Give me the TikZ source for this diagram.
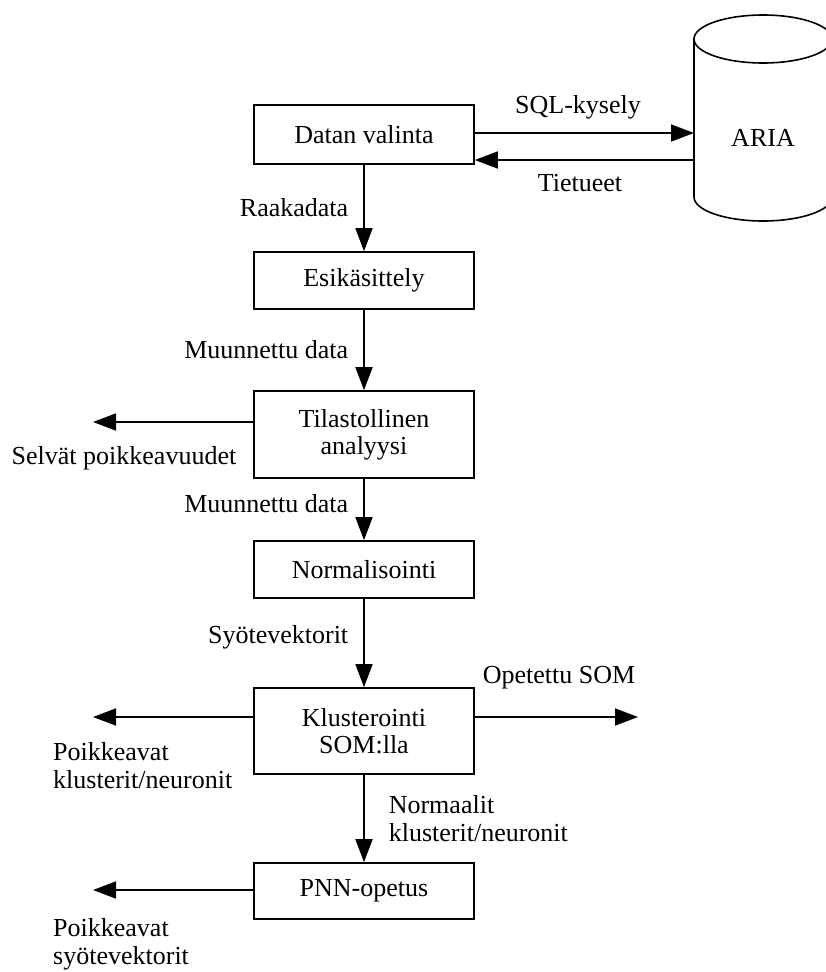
\documentclass[tikz,border=0pt]{standalone}
\usepackage{fontspec}
\setmainfont{Liberation Serif}
\usetikzlibrary{arrows.meta}
\begin{document}
\begin{tikzpicture}[x=1pt, y=1pt,
    font=\fontsize{26}{29}\selectfont,
    box/.style={draw, line width=1.6pt, minimum width=220pt, align=center, inner sep=0pt},
    lbl/.style={inner sep=2pt, align=left},
    arr/.style={line width=1.6pt, -{Triangle[length=23pt, width=17pt]}}]
    \useasboundingbox (0,0) rectangle (826,-972);
    % process chain
    \node[box, minimum height=59pt] (valinta) at (364,-134.5) {Datan valinta};
    \node[box, minimum height=57pt] (esik) at (364,-280.5) {Esikäsittely};
    \node[box, minimum height=87pt] (tilasto) at (364,-434.5) {Tilastollinen\\[-2pt]analyysi};
    \node[box, minimum height=57pt] (normal) at (364,-569.5) {Normalisointi};
    \node[box, minimum height=86pt] (kluster) at (364,-731) {Klusterointi\\[-2pt]SOM:lla};
    \node[box, minimum height=56pt] (pnn) at (364,-891) {PNN-opetus};
    % database
    \draw[line width=1.6pt] (763,-39) ellipse [x radius=69, y radius=24];
    \draw[line width=1.6pt] (694,-39) -- (694,-197)
        arc[start angle=180, end angle=360, x radius=69, y radius=24] -- (832,-39);
    \node (aria) at (763,-138) {ARIA};
    \coordinate (sqlend) at (694,-133);
    \coordinate (tietend) at (694,-160);
    % free ends
    \coordinate (selv) at (93,-422);
    \coordinate (poikk1) at (93,-717);
    \coordinate (opetettu) at (638,-717);
    \coordinate (poikk2) at (93,-890);
    \draw[arr] (valinta.east |- sqlend) -- (sqlend);
    \draw[arr] (tietend) -- (valinta.east |- tietend);
    \draw[arr] (valinta) -- node[lbl, left=13pt, pos=0.49] {Raakadata} (esik);
    \draw[arr] (esik) -- node[lbl, left=13pt, pos=0.5] {Muunnettu data} (tilasto);
    \draw[arr] (tilasto) -- node[lbl, left=13pt, pos=0.4] {Muunnettu data} (normal);
    \draw[arr] (normal) -- node[lbl, left=13pt, pos=0.44] {Syötevektorit} (kluster);
    \draw[arr] (kluster) -- node[lbl, right=22pt, pos=0.5] {Normaalit\\[-1pt]klusterit/neuronit} (pnn);
    \draw[arr] (tilasto.west |- selv) -- (selv);
    \draw[arr] (kluster.west |- poikk1) -- (poikk1);
    \draw[arr] (kluster.east |- opetettu) -- (opetettu);
    \draw[arr] (pnn.west |- poikk2) -- (poikk2);
    \node[lbl] (sqllbl) at (578,-107) {SQL-kysely};
    \node[lbl] (tietlbl) at (580,-183) {Tietueet};
    \node[lbl] (selvlbl) at (124,-458) {Selvät poikkeavuudet};
    \node[lbl] (opetlbl) at (559,-678) {Opetettu SOM};
    \node[lbl, anchor=west] (poikk1lbl) at (51,-766) {Poikkeavat\\[-1pt]klusterit/neuronit};
    \node[lbl, anchor=west] (poikk2lbl) at (51,-944) {Poikkeavat\\[-1pt]syötevektorit};
\end{tikzpicture}
\end{document}
